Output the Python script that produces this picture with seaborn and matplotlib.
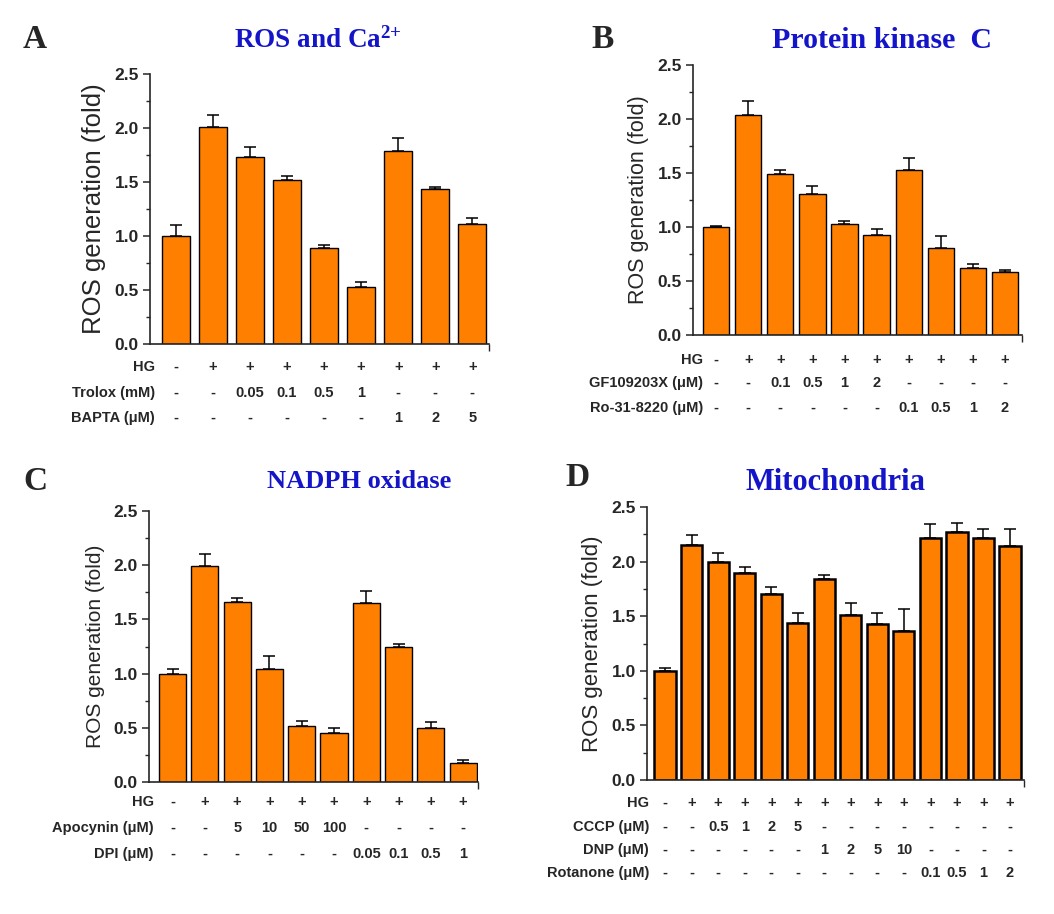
import numpy as np
import pandas as pd
import matplotlib
matplotlib.use("Agg")
import matplotlib.pyplot as plt
import seaborn as sns
from matplotlib.ticker import AutoMinorLocator, FormatStrFormatter
from matplotlib.transforms import blended_transform_factory

# ---- data ----
a_values = [1.00, 2.01, 1.73, 1.52, 0.89, 0.53, 1.79, 1.44, 1.11]
a_errors = [0.10, 0.11, 0.09, 0.04, 0.03, 0.045, 0.12, 0.01, 0.06]
a_rows = ["HG", "Trolox (mM)", "BAPTA (\u03bcM)"]
a_table = [
    ["-", "+", "+", "+", "+", "+", "+", "+", "+"],
    ["-", "-", "0.05", "0.1", "0.5", "1", "-", "-", "-"],
    ["-", "-", "-", "-", "-", "-", "1", "2", "5"],
]

b_values = [1.00, 2.04, 1.49, 1.31, 1.03, 0.93, 1.53, 0.81, 0.62, 0.58]
b_errors = [0.01, 0.13, 0.035, 0.065, 0.025, 0.05, 0.11, 0.11, 0.035, 0.025]
b_rows = ["HG", "GF109203X (\u03bcM)", "Ro-31-8220 (\u03bcM)"]
b_table = [
    ["-", "+", "+", "+", "+", "+", "+", "+", "+", "+"],
    ["-", "-", "0.1", "0.5", "1", "2", "-", "-", "-", "-"],
    ["-", "-", "-", "-", "-", "-", "0.1", "0.5", "1", "2"],
]

c_values = [1.00, 1.99, 1.66, 1.04, 0.52, 0.45, 1.65, 1.25, 0.50, 0.18]
c_errors = [0.04, 0.11, 0.035, 0.12, 0.045, 0.045, 0.11, 0.02, 0.055, 0.02]
c_rows = ["HG", "Apocynin (\u03bcM)", "DPI (\u03bcM)"]
c_table = [
    ["-", "+", "+", "+", "+", "+", "+", "+", "+", "+"],
    ["-", "-", "5", "10", "50", "100", "-", "-", "-", "-"],
    ["-", "-", "-", "-", "-", "-", "0.05", "0.1", "0.5", "1"],
]

d_values = [1.00, 2.15, 2.00, 1.90, 1.70, 1.44, 1.84, 1.51, 1.43, 1.36,
            2.22, 2.27, 2.22, 2.14]
d_errors = [0.03, 0.095, 0.08, 0.05, 0.07, 0.09, 0.035, 0.11, 0.10, 0.21,
            0.12, 0.08, 0.08, 0.16]
d_rows = ["HG", "CCCP (\u03bcM)", "DNP (\u03bcM)", "Rotanone (\u03bcM)"]
d_table = [
    ["-", "+", "+", "+", "+", "+", "+", "+", "+", "+", "+", "+", "+", "+"],
    ["-", "-", "0.5", "1", "2", "5", "-", "-", "-", "-", "-", "-", "-", "-"],
    ["-", "-", "-", "-", "-", "-", "1", "2", "5", "10", "-", "-", "-", "-"],
    ["-", "-", "-", "-", "-", "-", "-", "-", "-", "-", "0.1", "0.5", "1", "2"],
]

sns.set_style("ticks")
plt.rcParams["font.family"] = ["Liberation Sans", "DejaVu Sans"]
plt.rcParams["mathtext.fontset"] = "custom"
plt.rcParams["mathtext.rm"] = "Liberation Serif:bold"
plt.rcParams["mathtext.default"] = "rm"

ORANGE = "#ff8000"
BLUE = "#1414c8"

fig = plt.figure(figsize=(10.54, 9.14), dpi=100)


def panel(rect, values, errors, rows, table, xlim, width, edge_lw, ylab_size,
          row_y, label_x):
    ax = fig.add_axes(rect)
    df = pd.DataFrame({"cond": range(len(values)), "ros": values})
    sns.barplot(data=df, x="cond", y="ros", color=ORANGE, saturation=1,
                edgecolor="black", linewidth=edge_lw, width=width,
                errorbar=None, ax=ax)
    ax.errorbar(df["cond"], df["ros"], yerr=[np.zeros(len(errors)), errors],
                fmt="none", ecolor="black", elinewidth=1.1, capsize=4.5,
                capthick=1.1)
    ax.set_xlim(*xlim)
    ax.set_ylim(0, 2.5)
    ax.set_yticks([0, 0.5, 1.0, 1.5, 2.0, 2.5])
    ax.yaxis.set_minor_locator(AutoMinorLocator(2))
    ax.yaxis.set_major_formatter(FormatStrFormatter("%.1f"))
    ax.set_xticks([xlim[1]])
    ax.set_xticklabels([""])
    ax.set_xlabel("")
    ax.set_ylabel("ROS generation (fold)", fontsize=ylab_size, labelpad=6)
    ax.tick_params(axis="y", which="major", length=5, width=1.1,
                   labelsize=12.5, pad=3)
    ax.tick_params(axis="y", which="minor", length=3, width=1.0)
    ax.tick_params(axis="x", length=5, width=1.0)
    for t in ax.get_yticklabels():
        t.set_fontweight("bold")
    sns.despine(ax=ax)
    for s in ["left", "bottom"]:
        ax.spines[s].set_linewidth(1.2)

    trans = blended_transform_factory(ax.transData, ax.transAxes)
    for r, (name, cells) in enumerate(zip(rows, table)):
        ax.text(label_x, row_y[r], name, transform=ax.transAxes, ha="right",
                va="center", fontsize=10.5, fontweight="bold")
        for i, cell in enumerate(cells):
            ax.text(i, row_y[r], cell, transform=trans, ha="center",
                    va="center", fontsize=10.5, fontweight="bold")
    return ax


panel([0.1423, 0.6236, 0.3216, 0.2954], a_values, a_errors, a_rows, a_table,
      (-0.7, 8.45), 0.76, 1.0, 18.5, [-0.085, -0.181, -0.274], 0.015)
panel([0.6575, 0.6335, 0.3121, 0.2954], b_values, b_errors, b_rows, b_table,
      (-0.72, 9.53), 0.82, 1.0, 15.5, [-0.093, -0.178, -0.270], 0.03)
panel([0.1414, 0.1444, 0.3121, 0.2965], c_values, c_errors, c_rows, c_table,
      (-0.73, 9.46), 0.84, 1.0, 15, [-0.074, -0.170, -0.266], 0.015)
panel([0.6139, 0.1466, 0.3577, 0.2987], d_values, d_errors, d_rows, d_table,
      (-0.68, 13.53), 0.8, 1.8, 16, [-0.084, -0.172, -0.256, -0.341], 0.005)

serif = ["Liberation Serif", "DejaVu Serif"]
for x, y, letter in [(35, 40, "A"), (603, 40, "B"), (35, 482, "C"),
                     (578, 478, "D")]:
    fig.text(x / 1054, 1 - y / 914, letter, family=serif, fontsize=24,
             fontweight="bold", ha="center", va="center")

for x, y, title, size in [(318, 40, "ROS and Ca$^{2{+}}$", 19.5),
                          (882, 40, "Protein kinase  C", 21.5),
                          (359, 482, "NADPH oxidase", 19),
                          (836, 482, "Mitochondria", 22)]:
    fig.text(x / 1054, 1 - y / 914, title, family=serif, fontsize=size,
             fontweight="bold", color=BLUE, ha="center", va="center")

fig.savefig("out.png", dpi=100)
